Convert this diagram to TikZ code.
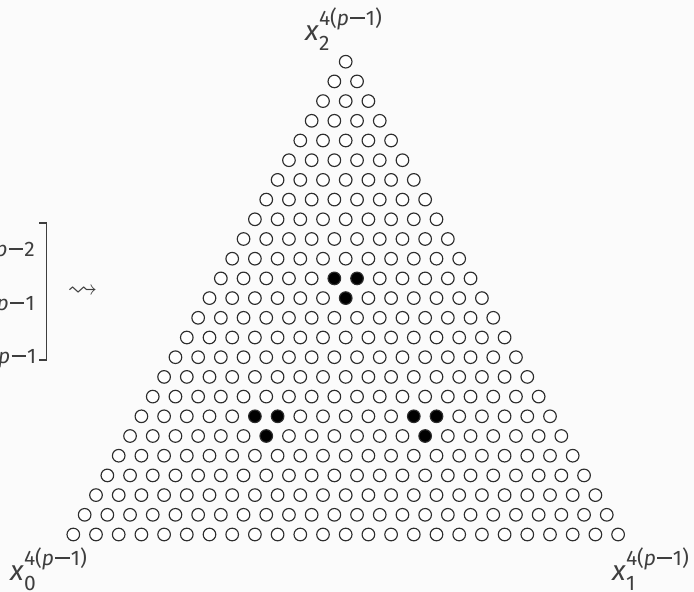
\documentclass[tikz,border=0pt]{standalone}
\usepackage{amssymb}
\usepackage{fontspec}
\setmainfont{Fira Sans}
\definecolor{textgray}{RGB}{62,62,62}
\definecolor{circgray}{RGB}{45,45,45}
\definecolor{bgcol}{RGB}{251,251,251}
\newcommand{\mns}{\hspace{0.06em}\raisebox{0.3em}{\rule{0.68em}{0.075em}}\hspace{0.06em}}
\newcommand{\suplabel}[1]{\textit{x}\rlap{\raisebox{-10pt}{\fontsize{21}{21}\selectfont #1}}\raisebox{15pt}{\fontsize{21}{21}\selectfont 4(\textit{p}\mns 1)}}
\expandafter\def\csname blk-11-5\endcsname{}
\expandafter\def\csname blk-11-6\endcsname{}
\expandafter\def\csname blk-12-6\endcsname{}
\expandafter\def\csname blk-18-5\endcsname{}
\expandafter\def\csname blk-18-6\endcsname{}
\expandafter\def\csname blk-19-6\endcsname{}
\expandafter\def\csname blk-18-12\endcsname{}
\expandafter\def\csname blk-18-13\endcsname{}
\expandafter\def\csname blk-19-13\endcsname{}
\begin{document}
\begin{tikzpicture}[x=1pt,y=-1pt,
  dot/.style={circle,draw=circgray,line width=1.15pt,minimum size=12.6pt,inner sep=0pt},
  lab/.style={text=textgray,inner sep=0pt,font=\fontsize{28}{30}\selectfont},
  small/.style={text=textgray,inner sep=0pt,font=\fontsize{21}{22}\selectfont},
  brk/.style={draw=textgray,line width=1.4pt}]
\fill[bgcol] (0,0) rectangle (694,592);
\useasboundingbox (0,0) rectangle (694,592);
\foreach \rr in {0,...,24}{
  \foreach \kk in {0,...,\rr}{
    \ifcsname blk-\rr-\kk\endcsname\def\fc{black}\else\def\fc{white}\fi
    \node[dot,fill=\fc] (c-\rr-\kk) at ({345.7+(\kk-\rr/2)*22.7},{61.7+\rr*19.7}) {};
  }
}
\node[lab,anchor=base west] (ltop) at (305,40) {\suplabel{2}};
\node[lab,anchor=base west] (lleft) at (10,580) {\suplabel{0}};
\node[lab,anchor=base west] (lright) at (612,580) {\suplabel{1}};
\node[small,anchor=base east] (e1) at (35,256) {\textit{p}\mns 2};
\node[small,anchor=base east] (e2) at (35,310) {\textit{p}\mns 1};
\node[small,anchor=base east] (e3) at (36.5,363) {\textit{p}\mns 1};
\draw[brk] (39,223) -- (46.7,223) -- (46.7,360) -- (39,360);
\node[text=textgray,inner sep=0pt,font=\fontsize{30}{30}\selectfont] (sq) at (82.5,292) {$\rightsquigarrow$};
\end{tikzpicture}
\end{document}
